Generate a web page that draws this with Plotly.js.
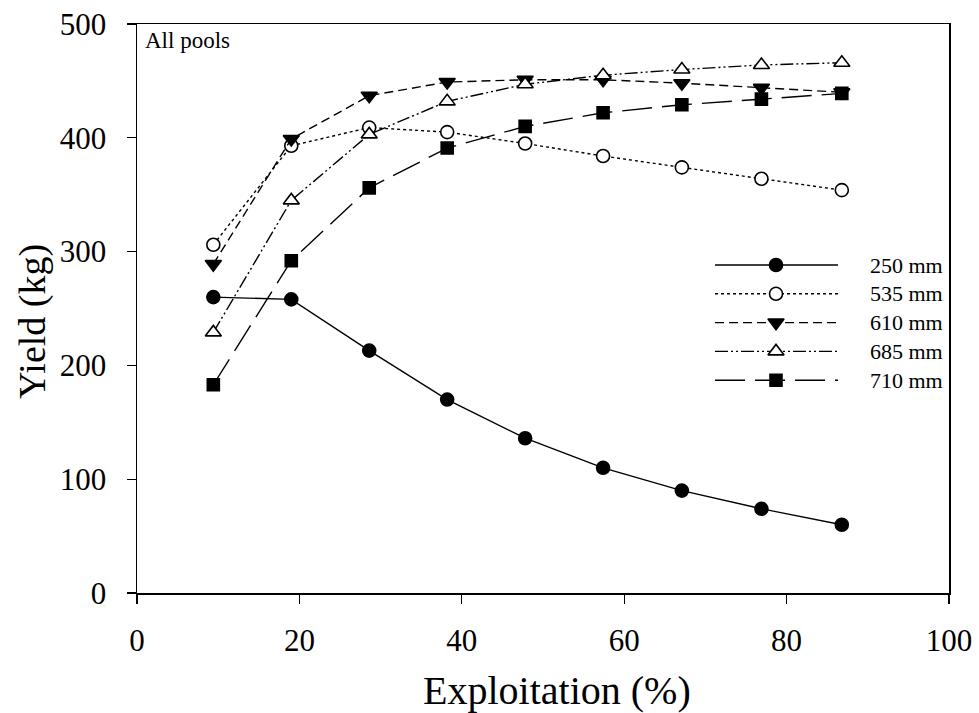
<!DOCTYPE html>
<html>
<head>
<meta charset="utf-8">
<script src="https://cdn.plot.ly/plotly-3.0.1.min.js"></script>
<style>html,body{margin:0;padding:0;background:#fff;}#chart{width:979px;height:713px;}</style>
</head>
<body>
<div id="chart"></div>
<script>
// ---- Data ----
const exploitation = [9.4, 19.0, 28.6, 38.2, 47.8, 57.4, 67.1, 76.9, 86.8];
const seriesNames = ["250 mm", "535 mm", "610 mm", "685 mm", "710 mm"];
const yield250 = [260, 258, 213, 170, 136, 110, 90, 74, 60];
const yield535 = [306, 393, 409, 405, 395, 384, 374, 364, 354];
const yield610 = [289, 399, 437, 449, 451, 451, 448, 444, 440];
const yield685 = [229, 345, 403, 432, 447, 455, 460, 464, 466];
const yield710 = [183, 292, 356, 391, 410, 422, 429, 434, 439];
const xTicks = [0, 20, 40, 60, 80, 100];
const yTicks = [0, 100, 200, 300, 400, 500];
const xTitle = "Exploitation (%)";
const yTitle = "Yield (kg)";

// ---- Styles ----
const FONT = "'Liberation Serif', serif";
const styles = [
  {dash: "solid", symbol: "circle", fill: "#000", size: 13},
  {dash: "dot", symbol: "circle", fill: "#fff", size: 13},
  {dash: "9px,5px", symbol: "triangle-down", fill: "#000", size: 14},
  {dash: "13px,3px,2px,3px,2px,3px", symbol: "triangle-up", fill: "#fff", size: 14},
  {dash: "30px,10px", symbol: "square", fill: "#000", size: 12}
];
const allY = [yield250, yield535, yield610, yield685, yield710];

const traces = [];
allY.forEach((ys, i) => {
  const s = styles[i];
  traces.push({
    x: exploitation, y: ys, name: seriesNames[i], type: "scatter", mode: "lines+markers",
    line: {color: "#000", width: 1.4, dash: s.dash},
    marker: {symbol: s.symbol, size: s.size, color: s.fill, line: {color: "#000", width: 1.6}},
    showlegend: false
  });
});

// ---- Custom legend drawn on an overlay axis measured in plot pixels ----
const legX0 = 578, legX1 = 701, legXm = 639, legTextX = 731;
const legRow0 = 241, legRowStep = 28.8;
const W = 979, H = 713;
const annotations = [
  {text: "All pools", xref: "paper", yref: "paper", x: 0.007, y: 0.997,
   xanchor: "left", yanchor: "top", showarrow: false, font: {family: FONT, size: 23, color: "#000"}},
  {text: xTitle, xref: "paper", yref: "paper", x: (557 - 137) / 812, y: -(690 - 593) / 569,
   xanchor: "center", yanchor: "middle", showarrow: false, font: {family: FONT, size: 40, color: "#000"}},
  {text: yTitle, xref: "paper", yref: "paper", x: -(137 - 32) / 812, y: (593 - 322) / 569, textangle: -90,
   xanchor: "center", yanchor: "middle", showarrow: false, font: {family: FONT, size: 38, color: "#000"}}
];
seriesNames.forEach((nm, i) => {
  const s = styles[i];
  const ry = legRow0 + i * legRowStep;
  traces.push({
    x: [legX0, legX1], y: [ry, ry], xaxis: "x2", yaxis: "y2", mode: "lines", type: "scatter",
    line: {color: "#000", width: 1.4, dash: s.dash}, showlegend: false
  });
  traces.push({
    x: [legXm], y: [ry], xaxis: "x2", yaxis: "y2", mode: "markers", type: "scatter",
    marker: {symbol: s.symbol, size: s.size, color: s.fill, line: {color: "#000", width: 1.6}},
    showlegend: false
  });
  annotations.push({
    text: nm, xref: "x2", yref: "y2", x: legTextX, y: ry, xanchor: "left", yanchor: "middle",
    showarrow: false, font: {family: FONT, size: 22, color: "#000"}
  });
});

const layout = {
  width: W, height: H,
  margin: {l: 137, r: 30, t: 24, b: 120, pad: 0},
  paper_bgcolor: "#fff", plot_bgcolor: "#fff",
  font: {family: FONT, color: "#000"},
  showlegend: false,
  xaxis: {
    range: [0, 100], tickvals: xTicks, ticktext: xTicks.map(String),
    showgrid: false, zeroline: false, showline: true, mirror: true, linecolor: "#000", linewidth: 1.5,
    ticks: "outside", ticklen: 9, tickwidth: 1.3, tickcolor: "#000",
    tickfont: {family: FONT, size: 31, color: "#000"}, ticklabelstandoff: 10
  },
  yaxis: {
    range: [0, 500], tickvals: yTicks, ticktext: yTicks.map(String),
    showgrid: false, zeroline: false, showline: true, mirror: true, linecolor: "#000", linewidth: 1.5,
    ticks: "outside", ticklen: 9, tickwidth: 1.3, tickcolor: "#000",
    tickfont: {family: FONT, size: 31, color: "#000"}, ticklabelstandoff: 14
  },
  xaxis2: {overlaying: "x", anchor: "y2", range: [0, 812], visible: false, fixedrange: true},
  yaxis2: {overlaying: "y", anchor: "x2", range: [569, 0], visible: false, fixedrange: true},
  annotations: annotations
};

Plotly.newPlot("chart", traces, layout, {displayModeBar: false, staticPlot: true});
</script>
</body>
</html>
